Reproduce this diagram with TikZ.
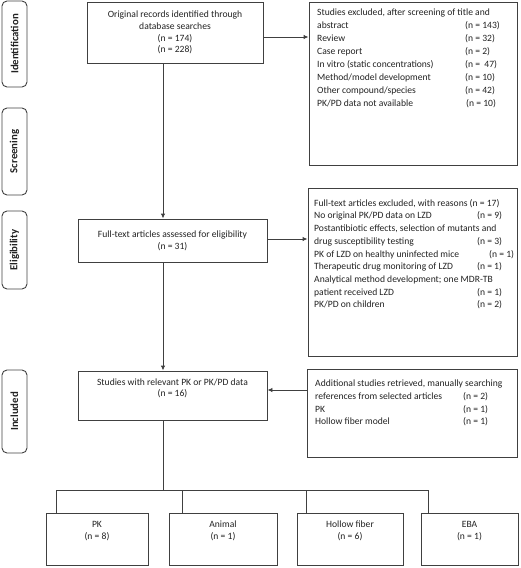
\documentclass[tikz,border=0pt]{standalone}
\usepackage{fontspec}
\setmainfont{Carlito}
\usetikzlibrary{arrows.meta}
\definecolor{ln}{HTML}{404040}
\definecolor{tx}{HTML}{222222}
\tikzset{
  box/.style={draw=ln, line width=0.9pt, rectangle, inner sep=0pt, align=center, text=tx, font=\fontsize{9.6}{11.8}\selectfont},
  side/.style={draw=ln, line width=0.9pt, rounded corners=5pt, rotate=90, inner sep=0pt, text=tx, font=\bfseries\fontsize{10.8}{12}\selectfont},
  list/.style={anchor=north west, inner sep=0pt, align=left, text=tx, font=\fontsize{9.6}{12.7}\selectfont},
  conn/.style={draw=ln, line width=0.9pt},
  arr/.style={conn, -{Latex[length=5pt,width=4.5pt]}}
}
\newcommand{\nl}[2]{\makebox[#1][l]{#2}}
\begin{document}
\begin{tikzpicture}[x=1pt,y=-1pt]
\useasboundingbox (0,0) rectangle (520,568);
% side labels
\node[side, minimum width=86pt, minimum height=25pt] (sid) at (14.5,44) {Identification};
\node[side, minimum width=87pt, minimum height=25pt] (sscr) at (14.5,151.5) {Screening};
\node[side, minimum width=78pt, minimum height=25pt] (sel) at (14.5,250) {Eligibility};
\node[side, minimum width=83pt, minimum height=25pt] (sinc) at (14.5,411.5) {Included};
% main column
\node[box, minimum width=176pt, minimum height=61pt] (orig) at (175,32.5) {Original records identified through\\database searches\\(n = 174)\\(n = 228)};
\node[box, minimum width=189pt, minimum height=43pt] (full) at (172.5,240.5) {Full-text articles assessed for eligibility\\(n = 31)};
\node[box, minimum width=189pt, minimum height=49pt] (stud) at (172.5,395.5) {Studies with relevant PK or PK/PD data\\(n = 16)\\[4pt]};
% side boxes
\node[box, minimum width=208pt, minimum height=163pt] (excl) at (413,83.5) {};
\node[list, font=\fontsize{9.6}{13}\selectfont] (exclt) at (317,9) {Studies excluded, after screening of title and\\
\nl{148pt}{abstract}(n = 143)\\
\nl{148pt}{Review}(n = 32)\\
\nl{148pt}{Case report}(n = 2)\\
\nl{148pt}{In vitro (static concentrations)}(n =\ \ 47)\\
\nl{148pt}{Method/model development}(n = 10)\\
\nl{148pt}{Other compound/species}(n = 42)\\
\nl{149pt}{PK/PD data not available}(n = 10)};
\node[box, minimum width=209pt, minimum height=168pt] (excl2) at (412.5,272) {};
\node[list] (excl2t) at (314,199) {Full-text articles excluded, with reasons (n = 17)\\
\nl{163pt}{No original PK/PD data on LZD}(n = 9)\\
Postantibiotic effects, selection of mutants and\\
\nl{163pt}{drug susceptibility testing}(n = 3)\\
\nl{175pt}{PK of LZD on healthy uninfected mice}(n = 1)\\
\nl{163pt}{Therapeutic drug monitoring of LZD}(n = 1)\\
Analytical method development; one MDR-TB\\
\nl{163pt}{patient received LZD}(n = 1)\\
\nl{163pt}{PK/PD on children}(n = 2)};
\node[box, minimum width=210pt, minimum height=88pt] (addl) at (412,413) {};
\node[list] (addlt) at (315,380) {Additional studies retrieved, manually searching\\
\nl{148pt}{references from selected articles}(n = 2)\\
\nl{148pt}{PK}(n = 1)\\
\nl{148pt}{Hollow fiber model}(n = 1)};
% bottom boxes
\node[box, minimum width=102pt, minimum height=52pt] (pk) at (97,539) {PK\\(n = 8)\\[6pt]};
\node[box, minimum width=108pt, minimum height=52pt] (anim) at (223,539) {Animal\\(n = 1)\\[6pt]};
\node[box, minimum width=106pt, minimum height=52pt] (hol) at (350,539) {Hollow fiber\\(n = 6)\\[6pt]};
\node[box, minimum width=97pt, minimum height=52pt] (eba) at (469.5,539) {EBA\\(n = 1)\\[6pt]};
% connectors
\coordinate (vx) at (163,0);
\draw[arr] (orig.south -| vx) -- (full.north -| vx);
\draw[arr] (full.south -| vx) -- (stud.north -| vx);
\path ([yshift=-4.5pt]orig.east) coordinate (o1);
\draw[arr] (o1) -- (o1 -| excl.west);
\path ([yshift=1.5pt]full.east) coordinate (f1);
\draw[arr] (f1) -- (f1 -| excl2.west);
\path ([yshift=5.5pt]stud.east) coordinate (s1);
\draw[arr] (s1 -| addl.west) -- (s1);
\coordinate (t1) at (56,490);
\coordinate (t2) at (182,490);
\coordinate (t3) at (306,490);
\coordinate (t4) at (428,490);
\draw[conn] (stud.south -| vx) -- (vx |- t1);
\draw[conn] (t1) -- (t4);
\draw[conn] (t1) -- (t1 |- pk.north);
\draw[conn] (t2) -- (t2 |- anim.north);
\draw[conn] (t3) -- (t3 |- hol.north);
\draw[conn] (t4) -- (t4 |- eba.north);
\end{tikzpicture}
\end{document}
